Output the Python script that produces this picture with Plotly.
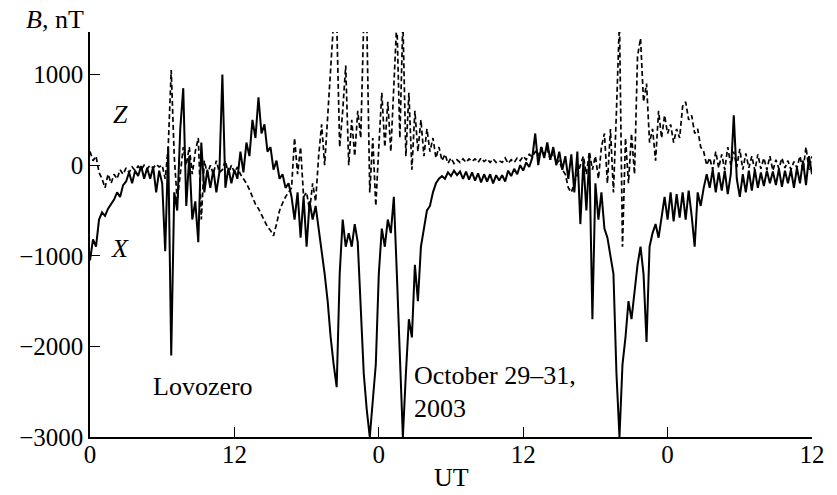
import numpy as np
import plotly.graph_objects as go

# Lovozero magnetogram, 29-31 October 2003, sampled every 15 min (nT)
STEP_H = 0.25

bx = [
    -1050, -820, -900, -600,
    -520, -560, -480, -430,
    -380, -300, -350, -220,
    -180, -80, -200, -60,
    -120, -10, -150, -30,
    -150, -20, -300, -60,
    -200, -950, 200, -2100,
    -300, -500, 400, 850,
    -450, 100, -600, -400,
    -850, 250, -300, -50,
    -250, -50, -300, -80,
    1000, -250, -30, -200,
    -50, -150, 150, -80,
    250, 100, 500, 300,
    750, 350, 450, 150,
    200, -50, 50, -150,
    -100, -250, -200, -350,
    -600, -300, -800, -350,
    -900, -400, -600, -450,
    -700, -900, -1200, -1500,
    -1900, -2200, -2450, -1200,
    -600, -900, -750, -900,
    -650, -850, -1500, -2300,
    -2700, -3000, -2600, -2200,
    -1200, -700, -900, -600,
    -750, -350, -1200, -2200,
    -3000, -2300, -1700, -1900,
    -1100, -1500, -900, -700,
    -500, -450, -300, -200,
    -150, -120, -150, -80,
    -120, -60, -110, -70,
    -150, -70, -160, -80,
    -170, -90, -190, -100,
    -180, -100, -200, -110,
    -170, -110, -180, -60,
    -120, -40, -100, 0,
    -60, 30, -20, 80,
    350, 0, 200, 80,
    250, 60, 200, 0,
    150, -50, 100, -150,
    120, -300, 150, -650,
    50, -500, 100, -1700,
    -200, -600, -300, -700,
    -800, -1000, -1200, -2300,
    -3000, -2200, -1900, -1500,
    -1700, -1400, -1100, -900,
    -1200, -1950, -900, -750,
    -650, -800, -550, -350,
    -600, -300, -620, -320,
    -580, -300, -600, -280,
    -560, -900, -300, -450,
    -250, -100, -250, -50,
    -300, -80, -280, -60,
    -320, -100, 550, -150,
    -350, -100, -300, -60,
    -280, -50, -250, -80,
    -230, -60, -200, -70,
    -220, -40, -240, -60,
    -200, -50, -250, -30,
    -200, 50, -220, 100,
    -100,
]

bz = [
    150, 50, 100, -80,
    -150, -250, -100, -200,
    -100, -150, -50, -100,
    -30, -80, -20, -60,
    -10, -50, 0, -40,
    0, -30, 10, -20,
    0, -150, 200, 1050,
    100, -400, -100, 200,
    0, 200, -100, 150,
    300, -600, 50, -100,
    0, -100, 50, -80,
    -50, 50, -100, 0,
    -80, -20, -100, -150,
    -200, -270, -350, -430,
    -480, -550, -620, -680,
    -720, -780, -650, -500,
    -420, -350, -300, -250,
    300, -100, 200, -350,
    -300, -500, -200, -400,
    100, 450, 0, 500,
    1000, 1600, 1600, 200,
    600, 1100, 0, 500,
    100, 600, 300, 1600,
    1600, -300, 300, -450,
    200, 800, 200, 700,
    150, 900, 1600, 300,
    1600, 100, 800, -50,
    600, 150, 500, 100,
    400, 150, 300, 80,
    200, 50, 120, 20,
    80, 20, 60, 30,
    70, 30, 70, 40,
    70, 30, 80, 40,
    70, 30, 70, 30,
    50, 30, 80, 20,
    60, 30, 80, 50,
    100, 60, 120, 90,
    150, 100, 200, 120,
    180, 60, 150, 20,
    50, -50, -100, -250,
    -300, -200, -100, 0,
    100, -100, 150, -50,
    100, -150, 200, 350,
    -200, 400, -300, 600,
    1600, -900, 300, -200,
    350, -100, 1200, 1400,
    700, 900, 250, 400,
    50, 600, 300, 550,
    350, 450, 250, 400,
    300, 650, 700, 500,
    550, 350, 400, 200,
    150, 0, 80, -50,
    150, -30, 120, -50,
    200, 0, 150, -20,
    180, -50, 130, -30,
    100, -60, 120, -40,
    80, -50, 100, -60,
    60, -40, 80, -30,
    50, -50, 40, -30,
    100, -60, 200, -50,
    100,
]

hours = np.arange(len(bx)) * STEP_H

x_tick_vals = [0, 12, 24, 36, 48, 60]
x_tick_text = ["0", "12", "0", "12", "0", "12"]
y_tick_vals = [-3000, -2000, -1000, 0, 1000]
y_tick_text = ["\u22123000", "\u22122000", "\u22121000", "0", "1000"]

SERIF = "Liberation Serif, Times New Roman, serif"

fig = go.Figure()
fig.add_trace(go.Scatter(x=hours, y=bz, mode="lines", name="Z",
                         line=dict(color="black", width=1.7, dash="5px,3px")))
fig.add_trace(go.Scatter(x=hours, y=bx, mode="lines", name="X",
                         line=dict(color="black", width=2.0)))

axis_common = dict(showgrid=False, zeroline=False, showline=True,
                   linecolor="black", linewidth=1.5, ticks="inside",
                   ticklen=10, tickwidth=1.2, tickcolor="black",
                   tickfont=dict(family=SERIF, size=25, color="black"))

fig.update_xaxes(range=[0, 60], tickvals=x_tick_vals, ticktext=x_tick_text,
                 ticklabelstandoff=-6, **axis_common)
fig.update_yaxes(range=[-3000, 1470], tickvals=y_tick_vals,
                 ticktext=y_tick_text, **axis_common)

txt = dict(family=SERIF, size=26, color="black")
fig.add_annotation(x=-0.048, y=1.03, xref="paper", yref="paper",
                   text="<i>B</i>, nT", showarrow=False, font=txt,
                   xanchor="center", yanchor="middle")
fig.add_annotation(x=0.5, y=-0.101, xref="paper", yref="paper",
                   text="UT", showarrow=False, font=txt,
                   xanchor="center", yanchor="middle")
fig.add_annotation(x=2.5, y=560, text="<i>Z</i>", showarrow=False, font=txt,
                   xanchor="center", yanchor="middle")
fig.add_annotation(x=2.5, y=-916, text="<i>X</i>", showarrow=False, font=txt,
                   xanchor="center", yanchor="middle")
fig.add_annotation(x=5.07, y=-2440, text="Lovozero", showarrow=False,
                   font=txt, xanchor="left", yanchor="middle")
fig.add_annotation(x=26.8, y=-2320, text="October 29\u201331,",
                   showarrow=False, font=txt, xanchor="left", yanchor="middle")
fig.add_annotation(x=26.8, y=-2690, text="2003", showarrow=False,
                   font=txt, xanchor="left", yanchor="middle")

fig.update_layout(width=837, height=495, showlegend=False,
                  margin=dict(l=90, r=14, t=32, b=58),
                  paper_bgcolor="white", plot_bgcolor="white")

fig.write_html("out.html")
